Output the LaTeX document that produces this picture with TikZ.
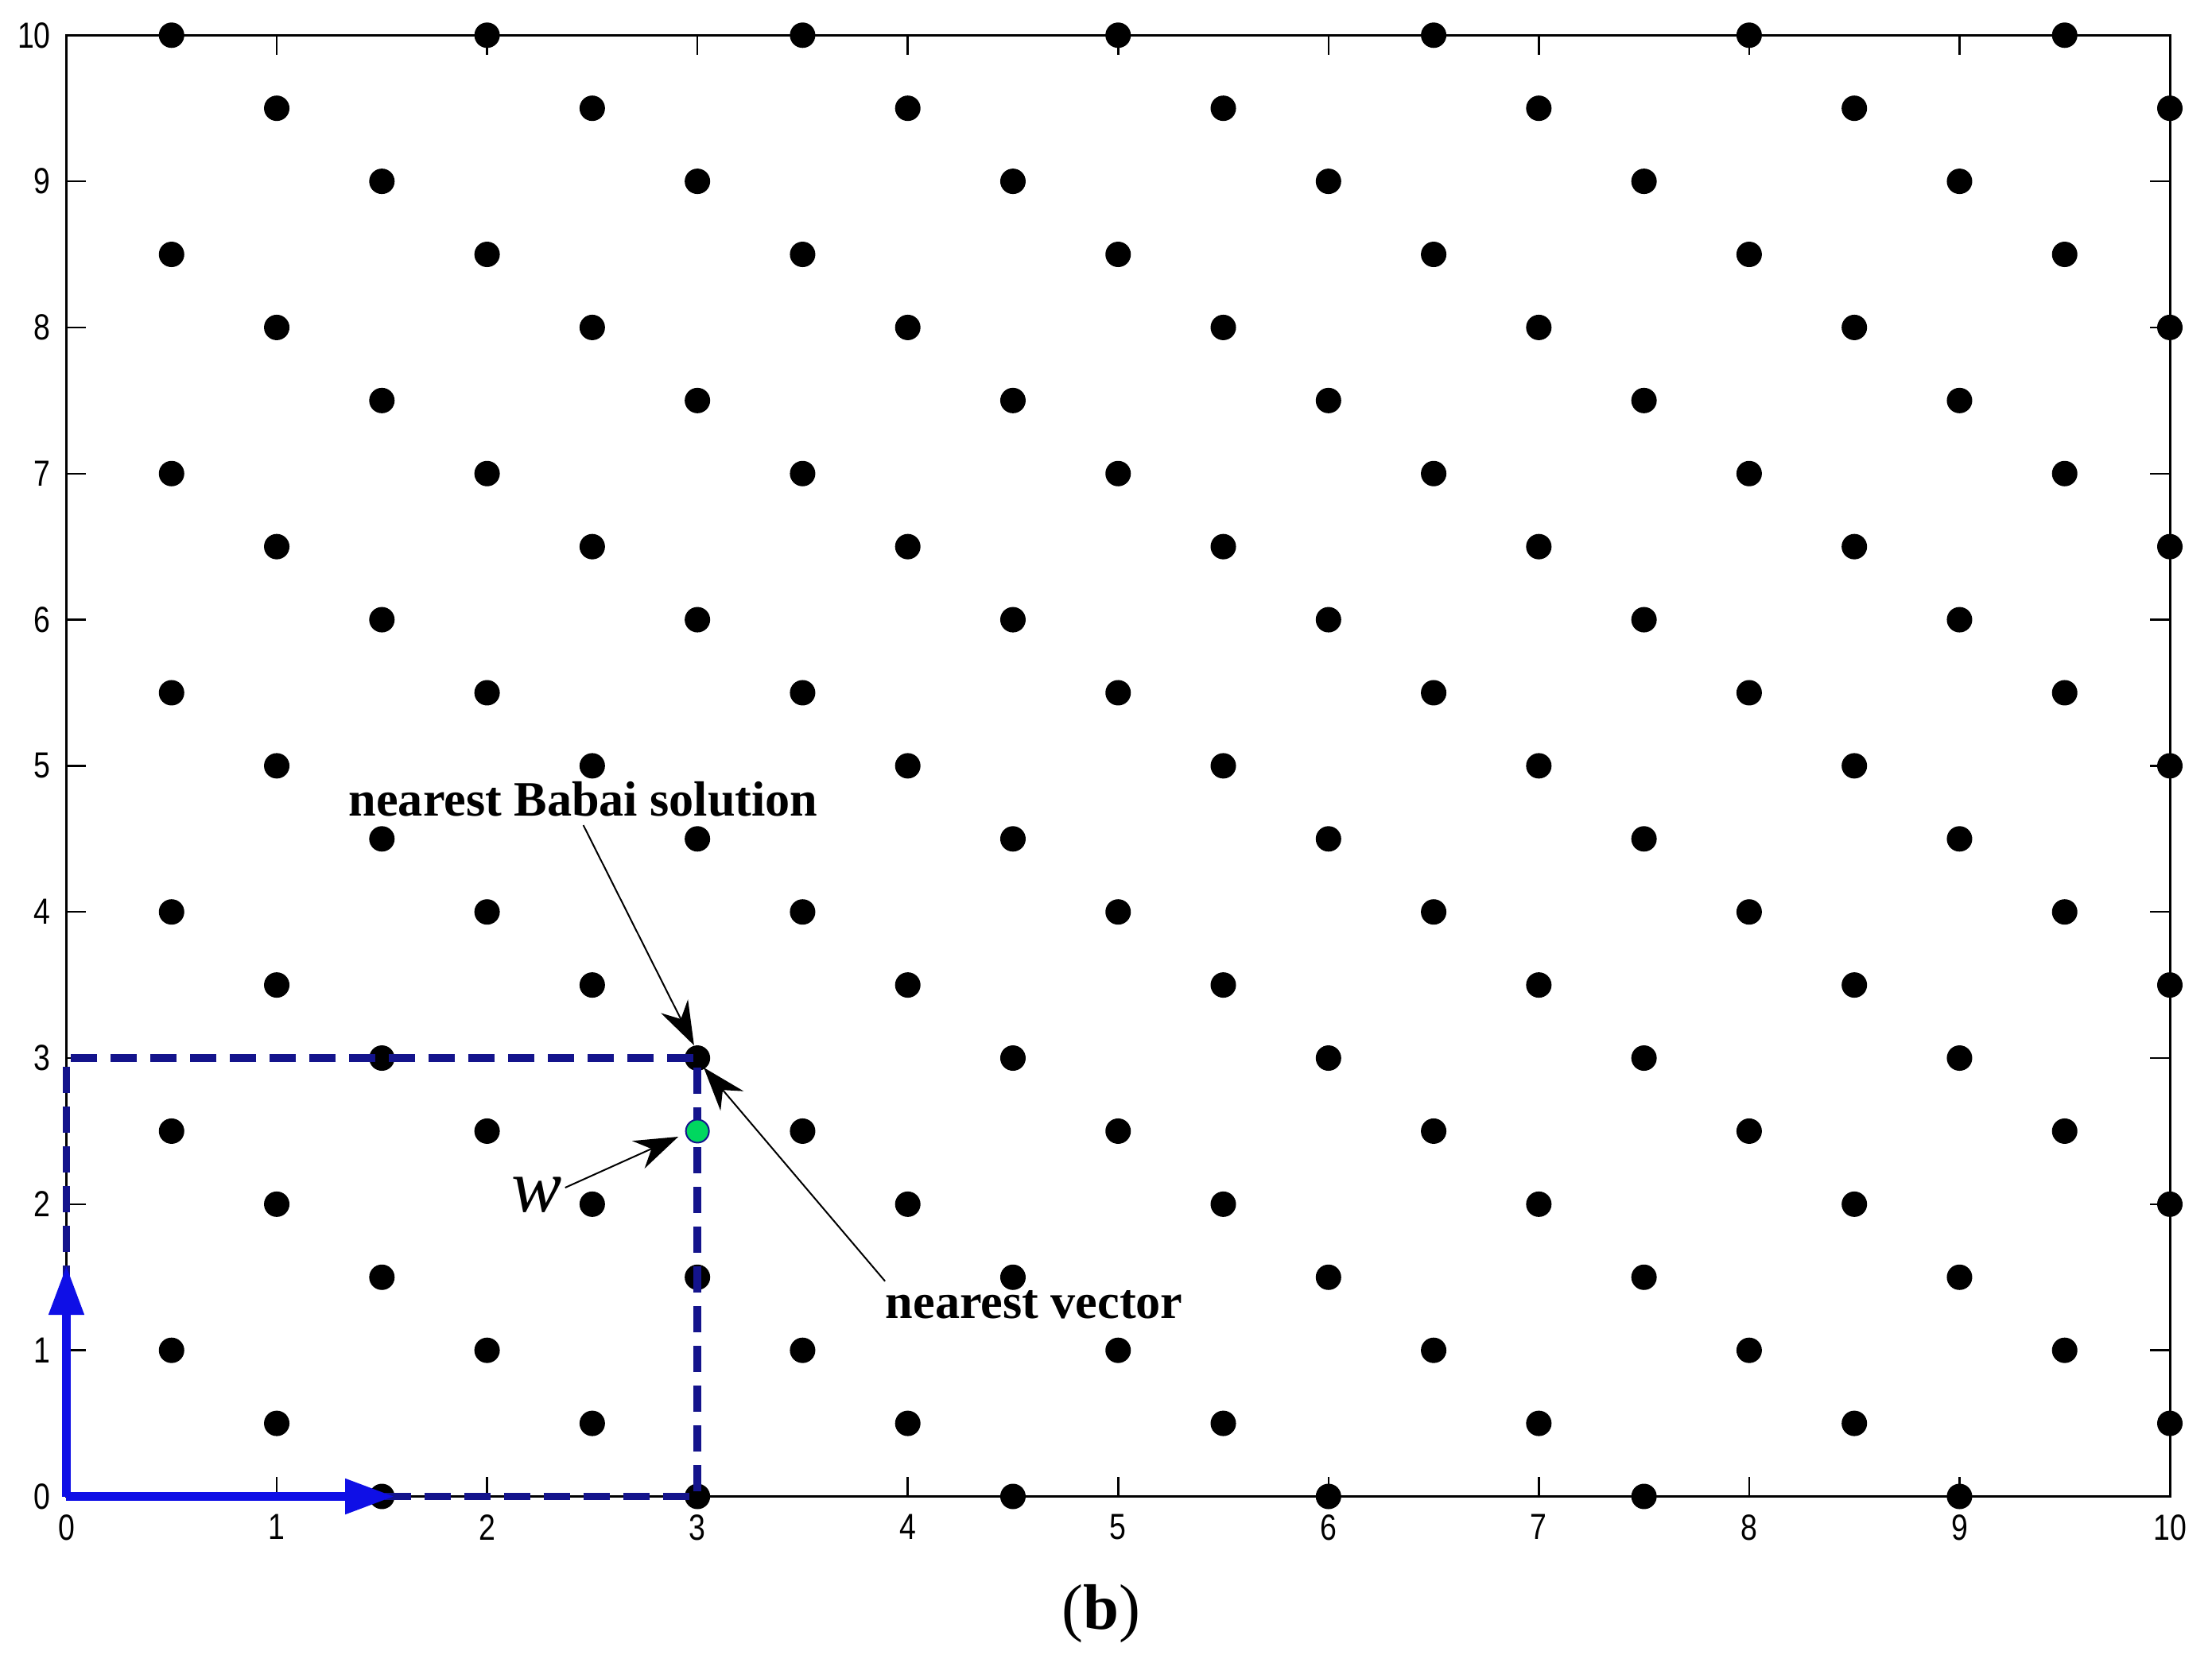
\documentclass[tikz,border=0pt]{standalone}
\usepackage{fontspec}
\setmainfont{Liberation Serif}
\newfontfamily\tickfont[FakeStretch=0.82]{Liberation Sans}
\usetikzlibrary{arrows.meta,calc}
\definecolor{navy}{RGB}{20,20,140}
\definecolor{vblue}{RGB}{15,15,230}
\definecolor{wgreen}{RGB}{0,215,95}
\begin{document}
\begin{tikzpicture}[x=2.6455cm,y=1.8382cm,
  dot/.style={circle,fill=black,inner sep=0,minimum size=0.32cm},
  ticklabel/.style={font=\tickfont\fontsize{13}{15}\selectfont,inner sep=0},
  tickline/.style={line width=0.025cm},
  lbl/.style={font=\bfseries\fontsize{17.7}{20}\selectfont,inner xsep=0,inner ysep=3pt},
  ann/.style={line width=0.02cm,-{Stealth[length=0.55cm,width=0.38cm,inset=0.18cm]}},
  basis/.style={draw=vblue,line width=0.11cm,-{Triangle[length=0.62cm,width=0.42cm]}},
  dashbox/.style={draw=navy,line width=0.095cm,dash pattern=on 0.33cm off 0.17cm}]
\useasboundingbox[fill=white] (-0.835cm,-2.035cm) rectangle (26.985cm,18.825cm);

% axes box
\draw[line width=0.03cm] (0,0) rectangle (10,10);
\foreach \k in {1,...,9}{
  \draw[tickline] (\k,0) -- ++(0,0.25cm);
  \draw[tickline] (\k,10) -- ++(0,-0.25cm);
  \draw[tickline] (0,\k) -- ++(0.25cm,0);
  \draw[tickline] (10,\k) -- ++(-0.25cm,0);
}
\foreach \k in {0,...,10}{
  \node[ticklabel,anchor=north] (xl\k) at ([yshift=-0.22cm]\k,0) {\k};
  \node[ticklabel,anchor=east] (yl\k) at ([xshift=-0.19cm]0,\k) {\k};
}

% lattice points
\foreach \i in {1,...,20}{
  \foreach \j in {0,...,20}{
    \pgfmathtruncatemacro\r{mod(\i+\j,3)}
    \ifnum\r=0 \node[dot] (p\i-\j) at (\i/2,\j/2) {};\fi
  }
}

% dashed box
\coordinate (O) at (0,0);
\coordinate (A) at (3,0);
\coordinate (B) at (3,3);
\coordinate (C) at (0,3);
\draw[dashbox] (O) -- (A) -- (B) -- (C) -- cycle;

% target point w
\node[circle,fill=wgreen,draw=navy,line width=0.02cm,inner sep=0,minimum size=0.29cm] (wpt) at (3,2.5) {};

% basis vectors
\coordinate (e1) at (1.56,0);
\coordinate (e2) at (0,1.58);
\draw[basis] (O) -- (e1);
\draw[basis] (O) -- (e2);

% labels
\node[lbl,anchor=base west] (babai) at (1.340,4.659) {nearest Babai solution};
\node[lbl,anchor=base west] (nv) at (3.892,1.2213) {nearest vector};
\node[font=\itshape\fontsize{27}{30}\selectfont,anchor=base west,inner sep=1pt] (w) at (2.100,1.945) {w};
\node[font=\fontsize{23}{28}\selectfont,anchor=base,inner sep=0] (cap) at (4.920,-0.911) {(\textbf{b})};

\coordinate (tb) at (2.984,3.087);
\coordinate (tn) at (3.030,2.935);
\coordinate (tw) at (2.909,2.4617);
\draw[ann] (babai.south) -- (tb);
\draw[ann] (nv.north west) -- (tn);
\draw[ann] (w.15) -- (tw);
\end{tikzpicture}
\end{document}
